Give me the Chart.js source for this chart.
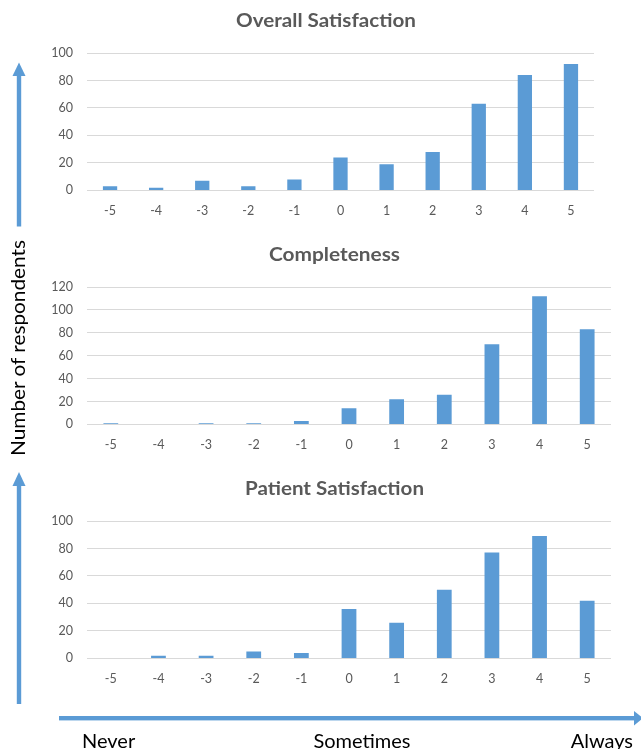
<!DOCTYPE html>
<html>
<head>
<meta charset="utf-8">
<script src="https://cdn.jsdelivr.net/npm/chart.js@4"></script>
<style>
  body { margin: 0; background: #fff; }
  #wrap { position: relative; width: 641px; height: 749px; overflow: hidden; font-family: Lato, sans-serif; }
  canvas { position: absolute; left: 0; }
  svg { position: absolute; left: 0; top: 0; }
</style>
</head>
<body>
<div id="wrap">
  <canvas id="overall" width="641" height="232" style="top:0px"></canvas>
  <canvas id="completeness" width="641" height="232" style="top:234px"></canvas>
  <canvas id="patient" width="641" height="232" style="top:468px"></canvas>
  <svg width="641" height="749">
    <!-- chart titles -->
    <text x="326" y="27" font-size="19" font-weight="bold" fill="#595959" text-anchor="middle" textLength="180" lengthAdjust="spacingAndGlyphs">Overall Satisfaction</text>
    <text x="334.5" y="261" font-size="19" font-weight="bold" fill="#595959" text-anchor="middle" textLength="131" lengthAdjust="spacingAndGlyphs">Completeness</text>
    <text x="334.5" y="495" font-size="19" font-weight="bold" fill="#595959" text-anchor="middle" textLength="179" lengthAdjust="spacingAndGlyphs">Patient Satisfaction</text>
    <!-- left arrows -->
    <rect x="16.8" y="74" width="4.4" height="152.5" fill="#5b9bd5"/>
    <polygon points="12.5,76 19,62.5 25.5,76" fill="#5b9bd5"/>
    <rect x="16.8" y="484" width="4.4" height="220" fill="#5b9bd5"/>
    <polygon points="12.5,486 19,472 25.5,486" fill="#5b9bd5"/>
    <!-- bottom arrow -->
    <rect x="59" y="716" width="576" height="4.4" fill="#5b9bd5"/>
    <polygon points="634,711 643,718.2 634,725.4" fill="#5b9bd5"/>
    <text transform="translate(25,348) rotate(-90)" text-anchor="middle" font-size="19" fill="#000" textLength="216" lengthAdjust="spacingAndGlyphs">Number of respondents</text>
    <text x="82" y="748" font-size="20" fill="#000">Never</text>
    <text x="362" y="748" font-size="20" fill="#000" text-anchor="middle">Sometimes</text>
    <text x="633" y="748" font-size="20" fill="#000" text-anchor="end">Always</text>
  </svg>
</div>
<script>
// Scores on the x axis
var scores = ['-5', '-4', '-3', '-2', '-1', '0', '1', '2', '3', '4', '5'];

// Number of respondents per score
var overallValues = [3, 2, 7, 3, 8, 24, 19, 28, 63, 84, 92];
var completenessValues = [1, 0, 1, 1, 3, 14, 22, 26, 70, 112, 83];
var patientValues = [0, 2, 2, 5, 4, 36, 26, 50, 77, 89, 42];

var barColor = '#5b9bd5';
var textGray = '#595959';

function makeChart(id, values, yMax, rightPad) {
    var ctx = document.getElementById(id).getContext('2d');
    return new Chart(ctx, {
        type: 'bar',
        data: {
            labels: scores,
            datasets: [{
                data: values,
                backgroundColor: barColor,
                barPercentage: 0.31,
                categoryPercentage: 1
            }]
        },
        options: {
            responsive: false,
            animation: false,
            layout: {
                padding: {left: 40, right: rightPad, top: 53, bottom: 0.6}
            },
            plugins: {
                legend: {display: false},
                tooltip: {enabled: false}
            },
            scales: {
                x: {
                    grid: {display: false, drawTicks: false},
                    border: {display: false},
                    ticks: {color: textGray, font: {family: 'Lato', size: 12.5}, padding: 13}
                },
                y: {
                    min: 0,
                    max: yMax,
                    grid: {color: '#d9d9d9', drawTicks: false},
                    border: {display: false},
                    ticks: {stepSize: 20, color: textGray, font: {family: 'Lato', size: 12.5}, padding: 14},
                    afterFit: function (scale) {
                        scale.width = 47;
                    }
                }
            }
        }
    });
}

makeChart('overall', overallValues, 100, 47);
makeChart('completeness', completenessValues, 120, 30);
makeChart('patient', patientValues, 100, 30);
</script>
</body>
</html>
